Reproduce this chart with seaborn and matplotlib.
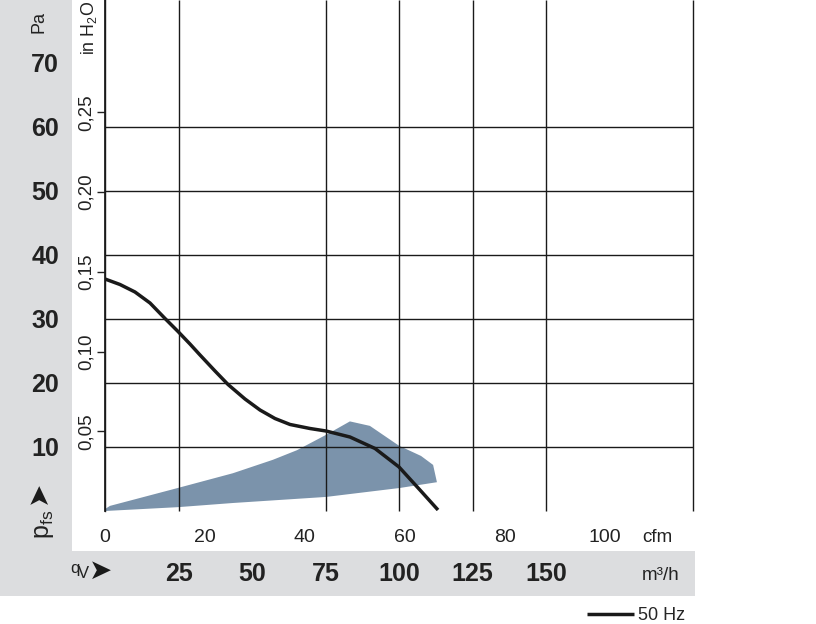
import matplotlib
matplotlib.use("Agg")
import matplotlib.pyplot as plt
import seaborn as sns
import pandas as pd
from matplotlib.patches import Rectangle

# ---------------- data ----------------
curve_q = [0, 5.10, 10.20, 15.31, 20.41, 24.83, 28.91, 32.31, 37.41, 41.84, 47.62,
           52.72, 57.82, 62.93, 69.73, 75.17, 83.33, 91.84, 100.0, 107.14, 113.27]
curve_p = [36.25, 35.39, 34.22, 32.50, 30.08, 28.05, 26.09, 24.38, 21.88, 19.77, 17.50,
           15.78, 14.45, 13.52, 12.89, 12.50, 11.56, 9.77, 6.88, 3.28, 0.16]
band_q = [0, 1.7, 24.8, 43.5, 57.1, 65.3, 75.2, 83.3, 90.1, 100.0, 107.5, 111.6,
          112.9, 100.3, 75.2, 43.5, 24.8, 0]
band_p = [0.3, 0.8, 3.6, 5.9, 8.0, 9.5, 11.9, 14.0, 13.3, 10.2, 8.6, 7.2,
          4.5, 3.6, 2.2, 1.25, 0.6, 0]
pa_ticks = [10, 20, 30, 40, 50, 60, 70]
inh2o_ticks = [0.05, 0.10, 0.15, 0.20, 0.25]
inh2o_labels = ["0,05", "0,10", "0,15", "0,20", "0,25"]
cfm_ticks = [0, 20, 40, 60, 80, 100]
cfm_marks = [60, 80, 100]
m3h_ticks = [25, 50, 75, 100, 125, 150]
grid_x = [25, 75, 100, 125, 150, 200]
grid_y = [10, 20, 30, 40, 50, 60]
legend_label = "50 Hz"

PA_PER_INH2O = 249.089
M3H_PER_CFM = 1.699

# ---------------- style ----------------
sns.set_theme(style="white")
plt.rcParams["font.family"] = ["Liberation Sans", "DejaVu Sans"]
plt.rcParams["mathtext.default"] = "regular"

TXT = "#222222"
LINE = "#1a1a1a"
GRAY = "#dcdddf"
BAND = "#7b93ab"

W, H = 816, 624
fig = plt.figure(figsize=(W / 100, H / 100), dpi=100)
fig.patch.set_facecolor("white")


def fx(x):
    return x / W


def fy(y):
    return 1 - y / H


# grey frame bands
fig.add_artist(Rectangle((0, fy(596)), fx(72), 596 / H, transform=fig.transFigure,
                         color=GRAY, lw=0, zorder=0))
fig.add_artist(Rectangle((0, fy(596)), fx(695), (596 - 551) / H, transform=fig.transFigure,
                         color=GRAY, lw=0, zorder=0))

ax = fig.add_axes([fx(105), fy(511), fx(693) - fx(105), 511 / H])
ax.set_facecolor("white")
ymax = 511 / 6.4
ax.set_xlim(0, 200)
ax.set_ylim(0, ymax)

# operating band
ax.fill(band_q, band_p, color=BAND, lw=0, zorder=1)
# grid
ax.vlines(grid_x, 0, ymax, color=LINE, lw=1.0, zorder=2, clip_on=False)
ax.hlines(grid_y, 0, 200, color=LINE, lw=1.0, zorder=2)

df = pd.DataFrame({"q": curve_q, "p": curve_p})
sns.lineplot(data=df, x="q", y="p", ax=ax, sort=False, color=LINE, lw=2.5,
             label=legend_label, zorder=3)
for ln in ax.get_lines():
    ln.set_solid_joinstyle("round")
    ln.set_solid_capstyle("butt")
handles, labels = ax.get_legend_handles_labels()
ax.get_legend().remove()
ax.set_xlabel("")
ax.set_ylabel("")

for s in ["top", "right", "bottom"]:
    ax.spines[s].set_visible(False)
ax.spines["left"].set_color(LINE)
ax.spines["left"].set_linewidth(1.0)

# Pa labels
ax.set_yticks(pa_ticks)
ax.set_yticklabels([str(v) for v in pa_ticks], fontsize=18, fontweight="bold", color=TXT)
ax.tick_params(axis="y", length=0, pad=33)

# m3/h labels
ax.set_xticks(m3h_ticks)
ax.set_xticklabels([str(v) for v in m3h_ticks], fontsize=18, fontweight="bold", color=TXT)
ax.tick_params(axis="x", length=0, pad=37)

# in H2O secondary axis
sec = ax.secondary_yaxis("left", functions=(lambda p: p / PA_PER_INH2O,
                                            lambda i: i * PA_PER_INH2O))
sec.set_yticks(inh2o_ticks)
sec.set_yticklabels(inh2o_labels)
sec.tick_params(axis="y", length=6, width=1, pad=1.5, labelsize=13.5, colors=TXT)
sec.spines["left"].set_color(LINE)
for lab in sec.get_yticklabels():
    lab.set_rotation(90)
    lab.set_va("center")

# cfm secondary axis
secx = ax.secondary_xaxis("bottom", functions=(lambda q: q / M3H_PER_CFM,
                                               lambda c: c * M3H_PER_CFM))
secx.set_xticks(cfm_ticks)
secx.set_xticklabels([str(v) for v in cfm_ticks])
secx.set_xticks(cfm_marks, minor=True)
secx.tick_params(axis="x", which="major", length=0, pad=13, labelsize=14, colors=TXT)
secx.tick_params(axis="x", which="minor", length=3.8, width=1, color=LINE)
secx.spines["bottom"].set_visible(False)

# unit texts
fig.text(fx(642), fy(537), "cfm", ha="left", va="center", fontsize=13.5, color=TXT)
fig.text(fx(642), fy(575), "m³/h", ha="left", va="center", fontsize=13.5, color=TXT)
fig.text(fx(39), fy(22), "Pa", rotation=90, ha="center", va="center", fontsize=13, color=TXT)
fig.text(fx(89), fy(55), r"in H$_2$O", rotation=90, ha="center", va="bottom", fontsize=12.8, color=TXT)

# p_fs with arrow
fig.text(fx(38), fy(492), "➤", rotation=90, ha="center", va="center", fontsize=20,
         family="DejaVu Sans", color=LINE)
fig.text(fx(44), fy(524), r"p$_{fs}$", rotation=90, ha="center", va="center", fontsize=18, color=TXT)

# q_V with arrow
fig.text(fx(70), fy(573), "q", ha="left", va="baseline", fontsize=12, color=TXT)
fig.text(fx(78), fy(578), "V", ha="left", va="baseline", fontsize=12, color=TXT)
fig.text(fx(101), fy(570.5), "➤", ha="center", va="center", fontsize=20,
         family="DejaVu Sans", color=LINE)

# legend
fig.legend(handles=handles, labels=labels, loc="center left",
           bbox_to_anchor=(fx(587), fy(616)), bbox_transform=fig.transFigure,
           frameon=False, fontsize=13, handlelength=2.6, handletextpad=0.25,
           borderpad=0, borderaxespad=0)

fig.savefig("out.png", dpi=100)
